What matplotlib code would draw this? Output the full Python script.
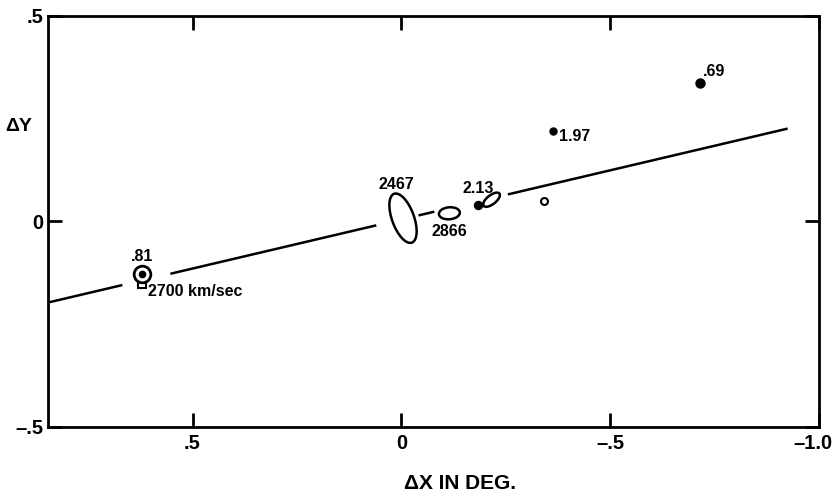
import numpy as np
import matplotlib
matplotlib.use("Agg")
import matplotlib.pyplot as plt
from matplotlib.patches import Ellipse
from matplotlib.transforms import ScaledTranslation

plt.rcParams['font.family'] = ['Liberation Sans', 'DejaVu Sans']
plt.rcParams['font.weight'] = 'bold'

# ---- data ----
line_intercept = 0.005
line_slope = -0.239
line_segments = [(0.846, 0.668), (0.553, 0.060), (-0.041, -0.079), (-0.255, -0.925)]

# ellipses: x, y, width(px), height(px), angle
ell_x = [-0.004, -0.115, -0.216]
ell_y = [0.008, 0.020, 0.053]
ell_w = [22, 21, 20]
ell_h = [52, 12, 9]
ell_ang = [20, 5, 38]

dot_x = [-0.184, -0.362, -0.716]
dot_y = [0.040, 0.219, 0.337]
dot_size = [8, 7, 9]

open_x, open_y = -0.341, 0.051
sym81_x, sym81_y = 0.621, -0.127
sq_x, sq_y = 0.622, -0.151

labels = [".81", "2700 km/sec", "2467", "2866", "2.13", "1.97", ".69"]
label_x = [0.620, 0.606, 0.013, -0.115, -0.183, -0.377, -0.721]
label_y = [-0.085, -0.170, 0.090, -0.024, 0.080, 0.207, 0.365]
label_ha = ["center", "left", "center", "center", "center", "left", "left"]

xticks = [0.5, 0.0, -0.5, -1.0]
xticklabels = [".5", "0", "\u2013.5", "\u20131.0"]
yticks = [0.5, 0.0, -0.5]
yticklabels = [".5", "0", "\u2013.5"]

# ---- figure ----
fig = plt.figure(figsize=(8.37, 4.94), dpi=100)
ax = fig.add_axes([48/837, 1-427/494, (819-48)/837, (427-16)/494])
ax.set_xlim(0.846, -1.0)
ax.set_ylim(-0.5, 0.5)

for s in ax.spines.values():
    s.set_linewidth(2.0)

for x0, x1 in line_segments:
    xs = np.array([x0, x1])
    ax.plot(xs, line_intercept + line_slope * xs, color='black', lw=1.8, solid_capstyle='butt')

for x, y, w, h, a in zip(ell_x, ell_y, ell_w, ell_h, ell_ang):
    tr = fig.dpi_scale_trans + ScaledTranslation(x, y, ax.transData)
    ax.add_patch(Ellipse((0, 0), w/100, h/100, angle=a, transform=tr,
                         fill=False, lw=1.8, ec='black'))

for x, y, s in zip(dot_x, dot_y, dot_size):
    ax.plot([x], [y], 'o', color='black', ms=s*0.72)

ax.plot([open_x], [open_y], 'o', mfc='white', mec='black', mew=1.5, ms=5)
ax.plot([sq_x], [sq_y], 's', mfc='white', mec='black', mew=1.5, ms=6)
ax.plot([sym81_x], [sym81_y], 'o', mfc='white', mec='black', mew=2.0, ms=12)
ax.plot([sym81_x], [sym81_y], 'o', color='black', ms=4.5)

for t, x, y, ha in zip(labels, label_x, label_y, label_ha):
    ax.text(x, y, t, ha=ha, va='center', fontsize=11.5, fontweight='bold')

ax.set_xticks(xticks)
ax.set_xticklabels(xticklabels)
ax.set_yticks(yticks)
ax.set_yticklabels(yticklabels)
ax.tick_params(direction='in', length=10, width=2, labelsize=14.5, top=True, right=True, pad=5)
ax.tick_params(axis='y', pad=3)
for lab in ax.get_xticklabels() + ax.get_yticklabels():
    lab.set_fontweight('bold')
# keep the last x tick label inside the figure
last = ax.get_xticklabels()[-1]
last.set_transform(last.get_transform() + ScaledTranslation(-6/100, 0, fig.dpi_scale_trans))

fig.text(19/837, 1-126/494, "\u0394Y", ha='center', va='center', fontsize=14, fontweight='bold')
fig.text(460/837, 1-483/494, "\u0394X IN DEG.", ha='center', va='center', fontsize=15, fontweight='bold')

fig.savefig("out.png", dpi=100, facecolor='white')
